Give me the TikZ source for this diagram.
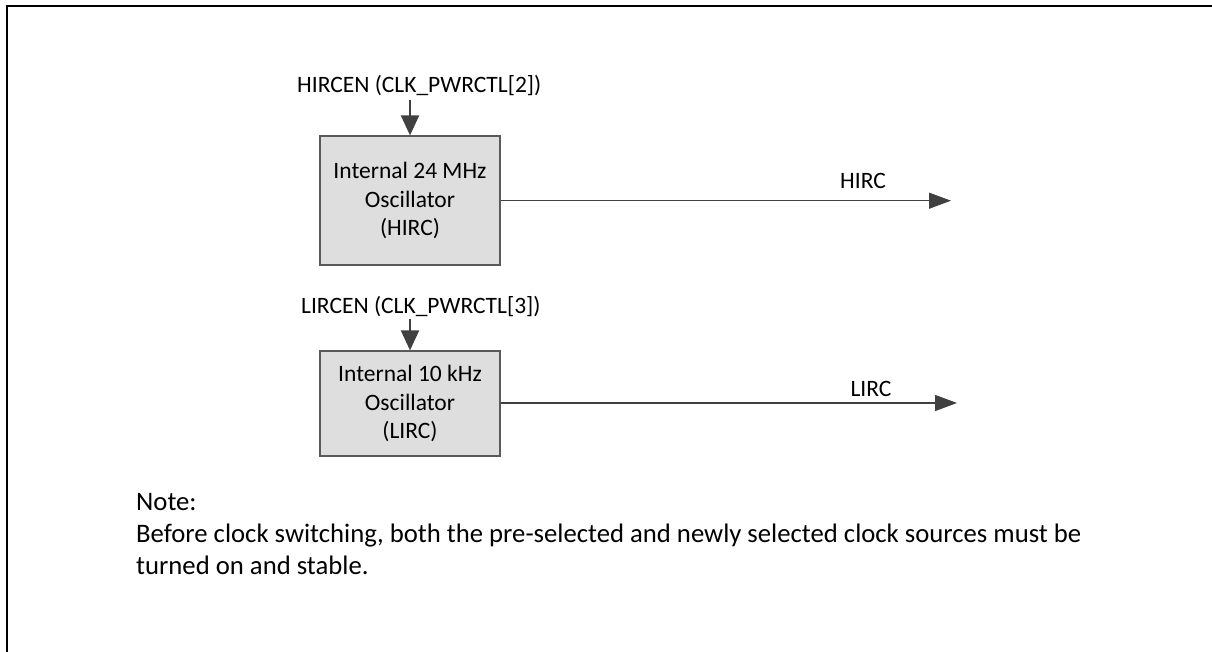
\documentclass[tikz,border=0pt]{standalone}
\usepackage{fontspec}
\setmainfont{Carlito}
\usetikzlibrary{arrows.meta}
\definecolor{linegray}{HTML}{404040}
\definecolor{boxfill}{HTML}{DEDEDE}
\definecolor{boxdraw}{HTML}{5A5A5A}
\tikzset{
  oscbox/.style={draw=boxdraw, line width=1.2pt, fill=boxfill, minimum width=180pt, minimum height=129pt, inner sep=0pt, align=center, font=\fontsize{23.5}{28.6}\selectfont},
  lbl/.style={inner sep=0pt, font=\fontsize{23.5}{28.6}\selectfont},
  notetxt/.style={inner sep=0pt, anchor=base west, font=\fontsize{26.7}{32.2}\selectfont},
  sigarrow/.style={draw=linegray, line width=1.3pt, -{Triangle[length=22pt, width=16pt]}},
  enarrow/.style={draw=linegray, line width=2pt, -{Triangle[length=20pt, width=18pt]}}
}
\begin{document}
\begin{tikzpicture}[x=1pt, y=-1pt]
\useasboundingbox (0,0) rectangle (1212,652);
% frame (cropped)
\draw[line width=2.2pt, black] (7.3,660) -- (7.3,5.7) -- (1220,5.7);

% HIRC
\node[oscbox] (hbox) at (410,200.5) {Internal 24 MHz\\Oscillator\\(HIRC)};
\node[lbl, anchor=base west] (hen) at (297,93) {HIRCEN (CLK\_PWRCTL[2])};
\coordinate (hin) at (410,100);
\draw[enarrow] (hin) -- (hbox.north);
\coordinate (hout) at (951,200.7);
\draw[sigarrow] (hbox.east |- hout) -- (hout);
\node[lbl, anchor=base] (hlbl) at (863,189) {HIRC};

% LIRC
\node[oscbox, minimum height=105pt] (lbox) at (410,403.5) {Internal 10 kHz\\Oscillator\\(LIRC)};
\node[lbl, anchor=base west] (len) at (301,313) {LIRCEN (CLK\_PWRCTL[3])};
\coordinate (lin) at (410,319);
\draw[enarrow] (lin) -- (lbox.north);
\coordinate (lout) at (957,403);
\draw[sigarrow] (lbox.east |- lout) -- (lout);
\node[lbl, anchor=base] (llbl) at (871,396) {LIRC};

% note
\node[notetxt] (n1) at (136,510) {Note:};
\node[notetxt] (n2) at (136,542.5) {Before clock switching, both the pre-selected and newly selected clock sources must be};
\node[notetxt] (n3) at (136,574.5) {turned on and stable.};
\end{tikzpicture}
\end{document}
